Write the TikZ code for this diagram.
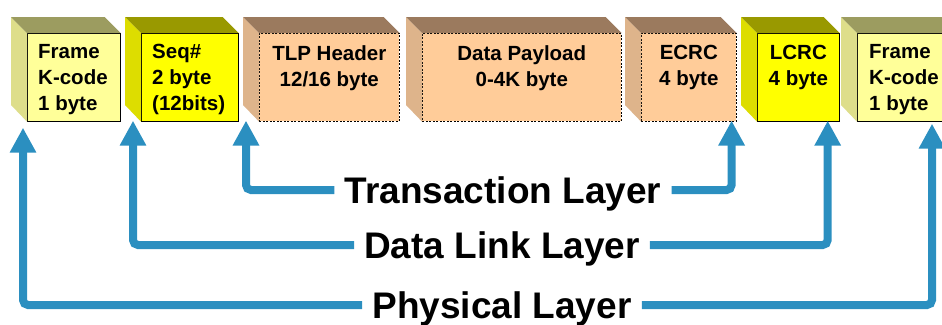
\documentclass[tikz,border=0pt]{standalone}
\usepackage{fontspec}
\setsansfont{Liberation Sans}
\usepackage{xcolor}
\usetikzlibrary{calc,positioning,arrows.meta}
\definecolor{ltfront}{HTML}{FFFF99}
\definecolor{ltside}{HTML}{DEDE8A}
\definecolor{lttop}{HTML}{9C9C60}
\definecolor{ylfront}{HTML}{FFFF00}
\definecolor{ylside}{HTML}{DDDD00}
\definecolor{yltop}{HTML}{999900}
\definecolor{pcfront}{HTML}{FFCC99}
\definecolor{pcside}{HTML}{DEB48B}
\definecolor{pctop}{HTML}{9B7A5E}
\definecolor{busblue}{HTML}{2B8FC0}

\begin{document}
\begin{tikzpicture}[x=1pt,y=-1pt,
	face/.style={draw=black,line width=0.7pt,inner sep=0pt,anchor=north west,minimum height=88pt},
	pcface/.style={face,fill=pcfront,line width=0.6pt,dash pattern=on 2pt off 1.5pt},
	boxtext/.style={font=\sffamily\bfseries\fontsize{20.5}{26}\selectfont,inner sep=0pt},
	layer/.style={font=\sffamily\bfseries\fontsize{37}{44}\selectfont,text height=27pt,text depth=0pt,inner xsep=10pt,inner ysep=0pt},
	bus/.style={draw=busblue,line width=8pt,rounded corners=5pt,-{Triangle[width=25pt,length=25pt]}}]
	\useasboundingbox (0,0) rectangle (942,324);
	\node[face,fill=ltfront,minimum width=93pt] (frameA) at (27,33) {};
	\node[face,fill=ylfront,minimum width=97pt] (seq) at (141,33) {};
	\node[pcface,minimum width=140pt] (tlp) at (259,33) {};
	\node[pcface,minimum width=199pt] (data) at (422,33) {};
	\node[pcface,minimum width=95pt] (ecrc) at (641,33) {};
	\node[face,fill=ylfront,minimum width=82pt] (lcrc) at (757,33) {};
	\node[face,fill=ltfront,minimum width=103pt] (frameB) at (857,33) {};
	\foreach \n/\s/\t in {frameA/ltside/lttop,seq/ylside/yltop,tlp/pcside/pctop,data/pcside/pctop,ecrc/pcside/pctop,lcrc/ylside/yltop,frameB/ltside/lttop}{
		\fill[\s] (\n.north west) -- ++(-16,-16) -- ++(0,88) -- (\n.south west) -- cycle;
		\fill[\t] (\n.north west) -- ++(-16,-16) -- ($(\n.north east)+(-16,-16)$) -- (\n.north east) -- cycle;
	}
	\node[boxtext,align=left,below right=11pt and 11pt of frameA.north west] (frameAtxt) {Frame\\K-code\\1 byte};
	\node[boxtext,align=left,below right=11pt and 11pt of seq.north west] (seqtxt) {Seq\#\\2 byte\\(12bits)};
	\node[boxtext,align=center,below=12pt of tlp.north] (tlptxt) {TLP Header\\12/16 byte};
	\node[boxtext,align=center,below=12pt of data.north] (datatxt) {Data Payload\\0-4K byte};
	\node[boxtext,align=center,below=12pt of ecrc.north] (ecrctxt) {ECRC\\4 byte};
	\node[boxtext,align=center,below=12pt of lcrc.north] (lcrctxt) {LCRC\\4 byte};
	\node[boxtext,align=left,below right=11pt and 12pt of frameB.north west] (frameBtxt) {Frame\\K-code\\1 byte};
	\node[layer] (tl) at (503,190) {Transaction Layer};
	\node[layer] (dll) at (502,245) {Data Link Layer};
	\node[layer] (phy) at (502,305) {Physical Layer};
	\coordinate (tlL) at ($(tlp.south west)+(-13,-1)$);
	\coordinate (tlR) at ($(ecrc.south east)+(-5,-1)$);
	\coordinate (dllL) at ($(seq.south west)+(-8,-1)$);
	\coordinate (dllR) at ($(lcrc.south east)+(-12,-1)$);
	\coordinate (phyL) at ($(frameA.south west)+(-4,6)$);
	\coordinate (phyR) at ($(frameB.south west)+(75,2)$);
	\draw[bus] (tl.west) -| (tlL);
	\draw[bus] (tl.east) -| (tlR);
	\draw[bus] (dll.west) -| (dllL);
	\draw[bus] (dll.east) -| (dllR);
	\draw[bus] (phy.west) -| (phyL);
	\draw[bus] (phy.east) -| (phyR);
\end{tikzpicture}
\end{document}
